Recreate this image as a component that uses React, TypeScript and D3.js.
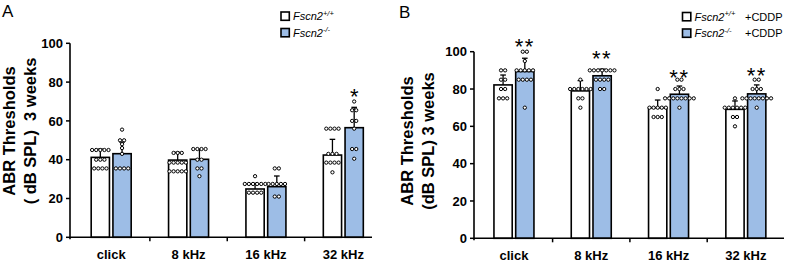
import React from 'react';
import * as d3 from 'd3';

// ---------- data ----------
const categories = ['click', '8 kHz', '16 kHz', '32 kHz'];
const yTicks = [0, 20, 40, 60, 80, 100];
const series = ['WT', 'KO'];

// Panel A (Fscn2 +/+ vs -/-)
const aMeanWT = [41.2, 39.8, 24.9, 42.4];
const aSdWT = [4.3, 4.0, 2.9, 8.1];
const aMeanKO = [43.1, 40.2, 26.1, 56.5];
const aSdKO = [6.0, 5.2, 5.5, 10.5];
const aDotsWT = [
  [45, 45, 45, 45, 45, 40, 40, 40, 35.5, 35.5, 35.5, 35.5],
  [43.5, 43.5, 43.5, 38.5, 38.5, 38.5, 38.5, 38.5, 34, 34, 34, 34, 34],
  [31.5, 27.5, 27.5, 27.5, 27.5, 27.5, 27.5, 23, 23, 23, 23],
  [56, 56, 56, 56, 43, 43, 43, 38.5, 38.5, 38.5, 38.5, 33.5],
];
const aDotsKO = [
  [55.5, 50, 50, 48, 46, 43, 35.5, 35.5, 35.5, 35.5],
  [45.5, 45.5, 45.5, 45.5, 40, 40, 35.5, 35.5, 31.5],
  [35.5, 35.5, 27.5, 27.5, 27.5, 27.5, 27.5, 21, 21],
  [70, 65.5, 65.5, 60, 60, 56, 45.5, 45.5, 40.5],
];
const aStars = ['', '', '', '*'];
const aStarY = [0, 0, 0, 75.4];

// Panel B (+CDDP)
const bMeanWT = [82.2, 79.0, 70.0, 69.1];
const bSdWT = [5.3, 5.5, 4.1, 4.5];
const bMeanKO = [89.4, 87.1, 77.2, 77.4];
const bSdKO = [7.1, 3.6, 4.4, 4.8];
const bDotsWT = [
  [90, 90, 85, 85, 80, 80, 75, 75, 75],
  [85, 80, 80, 80, 80, 80, 80, 75, 75, 70],
  [80, 70, 70, 70, 70, 70, 65, 65, 65],
  [75, 70, 70, 70, 70, 70, 70, 65, 65, 60],
];
const bDotsKO = [
  [100, 100, 95, 90, 90, 90, 90, 90, 85, 85, 85, 85, 70],
  [90, 90, 90, 90, 90, 90, 90, 85, 85, 85, 85, 80, 80],
  [85, 85, 80, 80, 80, 75, 75, 75, 75, 75, 75, 75, 75, 70],
  [85, 85, 80, 80, 80, 75, 75, 75, 75, 75, 75, 75, 75, 70],
];
const bStars = ['**', '**', '**', '**'];
const bStarY = [105.2, 98.8, 88.9, 90];

// ---------- style ----------
const FONT = "'Liberation Sans', Arial, Helvetica, sans-serif";
const BLUE = '#9dbde6';
const FILLS = ['#ffffff', BLUE];

type PanelProps = {
  axisX: number;
  axisEnd: number;
  y0: number;
  y100: number;
  bandRange: [number, number];
  means: number[][];
  sds: number[][];
  dots: number[][][];
  stars: string[];
  starY: number[];
  title1: string;
  title2: string;
  t1x: number;
  t2x: number;
  tcy: number;
};

function Panel(p: PanelProps) {
  const y = d3.scaleLinear().domain([0, 100]).range([p.y0, p.y100]);
  const x = d3.scaleBand<string>().domain(categories).range(p.bandRange).paddingInner(0).paddingOuter(0);
  const xs = d3.scaleBand<string>().domain(series).range([-20, 20]).paddingInner(0.16);
  const bw = xs.bandwidth();
  const dotStep = 4.1;
  const r = 1.65;
  const boundaries = categories.slice(1).map((c) => x(c)!);

  return (
    <g>
      {/* bars */}
      {categories.map((c, ci) => {
        const gc = x(c)! + x.bandwidth() / 2;
        return series.map((s, si) => {
          const m = p.means[si][ci];
          const sd = p.sds[si][ci];
          const bx = gc + xs(s)!;
          const cx = bx + bw / 2;
          // dots grouped by value
          const groups = d3.groups(p.dots[si][ci], (v) => v);
          return (
            <g key={c + s}>
              <rect x={bx} y={y(m)} width={bw} height={y(0) - y(m)} fill={FILLS[si]} stroke="#000" strokeWidth={1.6} />
              <line x1={cx} x2={cx} y1={y(m)} y2={y(m + sd)} stroke="#000" strokeWidth={1.3} />
              <line x1={cx - 2.8} x2={cx + 2.8} y1={y(m + sd)} y2={y(m + sd)} stroke="#000" strokeWidth={1.3} />
              {groups.map(([v, arr]) =>
                arr.map((_, k) => (
                  <circle
                    key={k}
                    cx={cx + (k - (arr.length - 1) / 2) * dotStep}
                    cy={y(v)}
                    r={r}
                    fill="#fff"
                    stroke="#000"
                    strokeWidth={1}
                  />
                ))
              )}
            </g>
          );
        });
      })}
      {/* stars */}
      {categories.map((c, ci) =>
        p.stars[ci] ? (
          <text
            key={'st' + c}
            x={x(c)! + x.bandwidth() / 2 + xs('KO')! + bw / 2}
            y={y(p.starY[ci]) + 12.5}
            textAnchor="middle"
            fontFamily={FONT}
            fontSize={22}
            letterSpacing={p.stars[ci].length > 1 ? 1.5 : 0}
            fill="#000"
          >
            {p.stars[ci]}
          </text>
        ) : null
      )}
      {/* y axis */}
      <line x1={p.axisX} x2={p.axisX} y1={y(100)} y2={y(0) + 2} stroke="#000" strokeWidth={1.6} />
      {yTicks.map((t) => (
        <g key={'yt' + t}>
          <line x1={p.axisX - 4} x2={p.axisX} y1={y(t)} y2={y(t)} stroke="#000" strokeWidth={1.5} />
          <text x={p.axisX - 7} y={y(t)} dy="0.36em" textAnchor="end" fontFamily={FONT} fontWeight="bold" fontSize={13} fill="#000">
            {t}
          </text>
        </g>
      ))}
      {/* x axis */}
      <line x1={p.axisX} x2={p.axisEnd} y1={y(0)} y2={y(0)} stroke="#000" strokeWidth={1.6} />
      {boundaries.map((b, i) => (
        <line key={'xb' + i} x1={b} x2={b} y1={y(0)} y2={y(0) + 4} stroke="#000" strokeWidth={1.5} />
      ))}
      {categories.map((c) => (
        <text key={'xl' + c} x={x(c)! + x.bandwidth() / 2} y={y(0) + 21.5} textAnchor="middle" fontFamily={FONT} fontWeight="bold" fontSize={13} fill="#000">
          {c}
        </text>
      ))}
      {/* axis title */}
      <text transform={`translate(${p.t1x},${p.tcy}) rotate(-90)`} textAnchor="middle" fontFamily={FONT} fontWeight="bold" fontSize={16.5} fill="#000" style={{ whiteSpace: 'pre' }}>
        {p.title1}
      </text>
      <text transform={`translate(${p.t2x},${p.tcy}) rotate(-90)`} textAnchor="middle" fontFamily={FONT} fontWeight="bold" fontSize={16.5} fill="#000" style={{ whiteSpace: 'pre' }}>
        {p.title2}
      </text>
    </g>
  );
}

function Legend({ x, y, sups, suffix, suffixX }: { x: number; y: number; sups: string[]; suffix: string; suffixX: number }) {
  return (
    <g>
      {sups.map((s, i) => (
        <g key={i}>
          <rect x={x} y={y + i * 16.5 - 8.3} width={8.3} height={8.3} fill={FILLS[i]} stroke="#000" strokeWidth={1.6} />
          <text x={x + 12} y={y + i * 16.5} fontFamily={FONT} fontSize={11} fontStyle="italic" fill="#000">
            Fscn2
            <tspan fontSize={7.5} dy={-4.5}>{s}</tspan>
          </text>
          {suffix ? (
            <text x={suffixX} y={y + i * 16.5} fontFamily={FONT} fontSize={11} fill="#000">
              {suffix}
            </text>
          ) : null}
        </g>
      ))}
    </g>
  );
}

export default function App() {
  return (
    <svg width={789} height={262} style={{ position: 'absolute', left: 0, top: 0, background: '#fff' }}>
      <rect width={789} height={262} fill="#fff" />
      <text x={2} y={17} fontFamily={FONT} fontSize={17} fill="#000">A</text>
      <text x={399} y={17.5} fontFamily={FONT} fontSize={17} fill="#000">B</text>
      <Panel
        axisX={70}
        axisEnd={372}
        y0={237.3}
        y100={43.3}
        bandRange={[72.5, 382]}
        means={[aMeanWT, aMeanKO]}
        sds={[aSdWT, aSdKO]}
        dots={[aDotsWT, aDotsKO]}
        stars={aStars}
        starY={aStarY}
        title1="ABR Thresholds"
        title2="( dB SPL)  3 weeks"
        t1x={15}
        t2x={36}
        tcy={131}
      />
      <Panel
        axisX={474}
        axisEnd={784}
        y0={238.3}
        y100={51.7}
        bandRange={[475.3, 784.5]}
        means={[bMeanWT, bMeanKO]}
        sds={[bSdWT, bSdKO]}
        dots={[bDotsWT, bDotsKO]}
        stars={bStars}
        starY={bStarY}
        title1="ABR Thresholds"
        title2="(dB SPL) 3 weeks"
        t1x={413}
        t2x={434}
        tcy={141}
      />
      <Legend x={281} y={20.3} sups={['+/+', '-/-']} suffix="" suffixX={0} />
      <Legend x={682.5} y={20.8} sups={['+/+', '-/-']} suffix="+CDDP" suffixX={745} />
    </svg>
  );
}
